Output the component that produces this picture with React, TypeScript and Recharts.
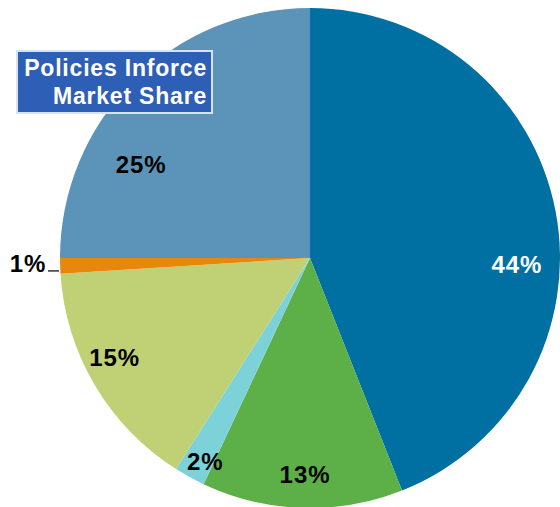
import React from "react";
import { Cell, Pie, PieChart } from "recharts";

const segments = ["A", "B", "C", "D", "E", "F"];
const shares = [44, 13, 2, 15, 1, 25];
const colors = ["#0070A3", "#5DB047", "#7DD2DA", "#BFD174", "#E8870E", "#5C93B8"];
const titleLines = ["Policies Inforce", "Market Share"];

// label radius and angle nudge per slice (degrees)
const labelLayout = [
  { r: 207, shift: -12.5 },
  { r: 217, shift: 0.5 },
  { r: 229, shift: 1.6 },
  { r: 219, shift: -3.7 },
  { r: 282, shift: -0.6 },
  { r: 193, shift: 16 },
];

const data = segments.map((name, i) => ({ name, value: shares[i] }));
const RAD = Math.PI / 180;

const renderLabel = (props: any) => {
  const { cx, cy, midAngle, outerRadius, index, value } = props;
  const { r, shift } = labelLayout[index];
  const a = (midAngle + shift) * RAD;
  const x = cx + r * Math.cos(a);
  const y = cy - r * Math.sin(a);
  const outside = r > outerRadius;
  return (
    <g>
      {outside && (
        <line
          x1={cx - outerRadius - 12}
          y1={y + 7}
          x2={cx - outerRadius - 1}
          y2={y + 7}
          stroke="#333"
          strokeWidth={1.5}
        />
      )}
      <text
        x={x}
        y={y}
        fill={index === 0 ? "#ffffff" : "#000000"}
        textAnchor="middle"
        dominantBaseline="central"
        fontFamily="'Liberation Sans', Arial, sans-serif"
        fontWeight="bold"
        fontSize={24}
        letterSpacing={1}
      >
        {`${value}%`}
      </text>
    </g>
  );
};

export default function App() {
  return (
    <div style={{ position: "fixed", left: 0, top: 0, width: 560, height: 507, background: "#fff" }}>
      <PieChart width={560} height={507} margin={{ top: 0, right: 0, bottom: 0, left: 0 }}>
        <Pie
          data={data}
          dataKey="value"
          cx={310}
          cy={258}
          outerRadius={250}
          startAngle={90}
          endAngle={-270}
          stroke="none"
          label={renderLabel}
          labelLine={false}
          isAnimationActive={false}
        >
          {data.map((d, i) => (
            <Cell key={d.name} fill={colors[i]} />
          ))}
        </Pie>
      </PieChart>
      <div
        style={{
          position: "absolute",
          left: 16,
          top: 50,
          width: 189,
          height: 58,
          background: "#2E5FB6",
          border: "2px solid #D8E2F0",
          color: "#fff",
          fontFamily: "'Liberation Sans', Arial, sans-serif",
          fontWeight: "bold",
          fontSize: 23,
          letterSpacing: 0.8,
          lineHeight: "28px",
          textAlign: "right",
          padding: "2px 4px 0 0",
          boxSizing: "content-box",
        }}
      >
        {titleLines.map((t) => (
          <div key={t}>{t}</div>
        ))}
      </div>
    </div>
  );
}
